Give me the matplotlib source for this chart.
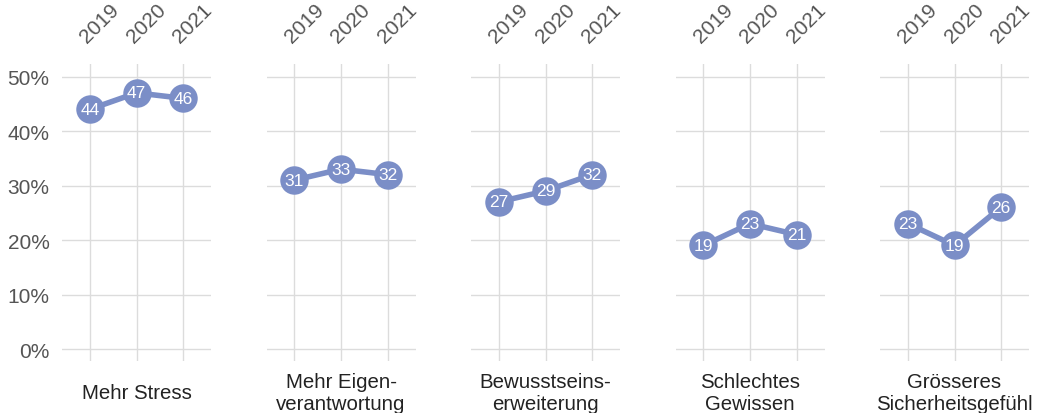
import matplotlib
matplotlib.use("Agg")
import matplotlib.pyplot as plt

plt.rcParams["font.family"] = ["Liberation Sans", "DejaVu Sans"]

YEARS = ["2019", "2020", "2021"]
CATEGORIES = [
    "Mehr Stress",
    "Mehr Eigen-\nverantwortung",
    "Bewusstseins-\nerweiterung",
    "Schlechtes\nGewissen",
    "Grösseres\nSicherheitsgefühl",
]
stress = [44, 47, 46]
eigenverantwortung = [31, 33, 32]
bewusstsein = [27, 29, 32]
gewissen = [19, 23, 21]
sicherheit = [23, 19, 26]
SERIES = [stress, eigenverantwortung, bewusstsein, gewissen, sicherheit]
Y_TICKS = [0, 10, 20, 30, 40, 50]

LINE_COLOR = "#7b8ec7"
GRID_COLOR = "#dcdcdc"
TEXT_GRAY = "#555555"

W, H = 1037, 414
fig = plt.figure(figsize=(W / 100, H / 100), dpi=100)

for i, (cat, vals) in enumerate(zip(CATEGORIES, SERIES)):
    left = 62 + i * 204.5
    ax = fig.add_axes([left / W, 52 / H, 149 / W, 297 / H])
    x = range(len(YEARS))
    ax.plot(x, vals, color=LINE_COLOR, lw=4, zorder=3, solid_capstyle="round")
    ax.scatter(x, vals, s=420, color=LINE_COLOR, zorder=4, linewidths=0)
    for xi, v in zip(x, vals):
        ax.text(xi, v, f"{v}", color="white", fontsize=12.5, ha="center",
                va="center", zorder=5)

    ax.set_xlim(-0.6, 2.6)
    ax.set_ylim(-2.2, 52.3)
    ax.set_yticks(Y_TICKS)
    ax.set_xticks(list(x))
    ax.xaxis.tick_top()
    ax.set_xticklabels(YEARS, rotation=45, ha="left", rotation_mode="anchor",
                       fontsize=15, color=TEXT_GRAY)
    if i == 0:
        ax.set_yticklabels([f"{t}%" for t in Y_TICKS], fontsize=15, color=TEXT_GRAY)
    else:
        ax.set_yticklabels([])
    ax.tick_params(axis="both", length=0)
    ax.tick_params(axis="x", pad=13)
    ax.tick_params(axis="y", pad=9)
    ax.grid(True, color=GRID_COLOR, lw=1)
    ax.set_axisbelow(True)
    for sp in ax.spines.values():
        sp.set_visible(False)

    # category name under each panel; two-line names run to the bottom edge
    fig.text((left + 74.5) / W, 1 - 394 / H, cat, ha="center", va="center",
             fontsize=14.7, color="#222222", linespacing=1.2)

fig.savefig("out.png", dpi=100, facecolor="white")
